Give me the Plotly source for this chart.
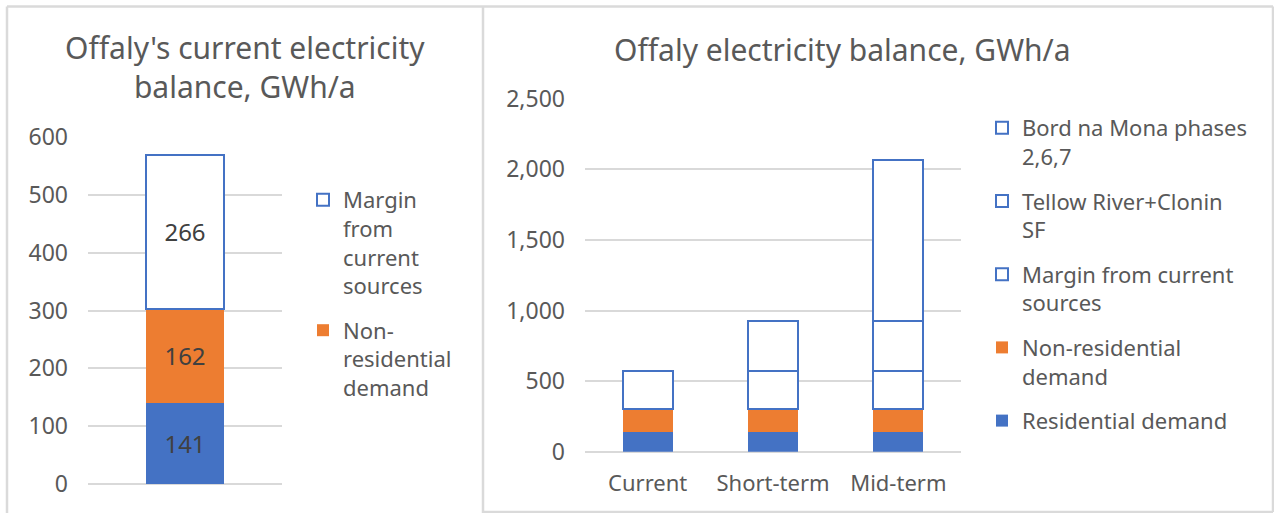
import plotly.graph_objects as go

# ── Data (GWh/a) ───────────────────────────────────────────────────────────────
CATEGORIES      = ["Current", "Short-term", "Mid-term"]
RESIDENTIAL     = [141, 141, 141]
NON_RESIDENTIAL = [162, 162, 162]
MARGIN          = [266, 266, 266]
TELLOW_CLONIN   = [None, 355, 355]
BORD_NA_MONA    = [None, None, 1140]

# ── Palette ────────────────────────────────────────────────────────────────────
BLUE   = "#4472C4"
ORANGE = "#ED7D31"
TEXT   = "#595959"
LABEL  = "#404040"
GRID   = "#D9D9D9"
BORDER = "#DADADA"
FONT   = "Noto Sans"

W, H = 1274, 513


def px_x(x):
    return x / W


def px_y(y):
    return 1 - y / H


fig = go.Figure()

# ── Left: current balance ─────────────────────────────────────────────────────
left_cat = [CATEGORIES[0]]
fig.add_trace(go.Bar(
    x=left_cat, y=[RESIDENTIAL[0]], name="Residential demand",
    marker=dict(color=BLUE, line=dict(width=0)),
    text=[RESIDENTIAL[0]], showlegend=False,
    xaxis="x", yaxis="y", legend="legend",
))
fig.add_trace(go.Bar(
    x=left_cat, y=[NON_RESIDENTIAL[0]], name="Non-<br>residential<br>demand",
    marker=dict(color=ORANGE, line=dict(width=0)),
    text=[NON_RESIDENTIAL[0]], legendgroup="l_non", legendrank=2,
    xaxis="x", yaxis="y", legend="legend",
))
fig.add_trace(go.Bar(
    x=left_cat, y=[MARGIN[0]], name="Margin<br>from<br>current<br>sources",
    marker=dict(color="white", line=dict(color=BLUE, width=2)),
    text=[MARGIN[0]], legendgroup="l_margin", legendrank=1,
    xaxis="x", yaxis="y", legend="legend",
))
fig.update_traces(
    selector=dict(xaxis="x"),
    textposition="inside", insidetextanchor="middle", textangle=0,
    constraintext="none",
    textfont=dict(size=24, color=LABEL, family=FONT),
    hoverinfo="skip",
)

# ── Right: balance by horizon ─────────────────────────────────────────────────
right_series = [
    ("Residential demand", RESIDENTIAL, dict(color=BLUE, line=dict(width=0))),
    ("Non-residential<br>demand", NON_RESIDENTIAL, dict(color=ORANGE, line=dict(width=0))),
    ("Margin from current<br>sources", MARGIN, dict(color="white", line=dict(color=BLUE, width=2))),
    ("Tellow River+Clonin<br>SF", TELLOW_CLONIN, dict(color="white", line=dict(color=BLUE, width=2))),
    ("Bord na Mona phases<br>2,6,7", BORD_NA_MONA, dict(color="white", line=dict(color=BLUE, width=2))),
]
n = len(right_series)
for i, (name, vals, marker) in enumerate(right_series):
    fig.add_trace(go.Bar(
        x=CATEGORIES, y=vals, name=name, marker=marker,
        legendgroup=f"r{i}", legendrank=n - i,
        xaxis="x2", yaxis="y2", legend="legend2",
        hoverinfo="skip",
    ))

# ── Layout ─────────────────────────────────────────────────────────────────────
tick_font = dict(size=23, color=TEXT, family=FONT)
legend_font = dict(size=22, color=TEXT, family=FONT)
fig.update_layout(
    width=W, height=H,
    margin=dict(l=0, r=0, t=0, b=0, autoexpand=False),
    paper_bgcolor="white", plot_bgcolor="white",
    font=dict(family=FONT, color=TEXT),
    barmode="stack", bargap=0.6,
    xaxis=dict(domain=[px_x(88), px_x(282)], anchor="y", showticklabels=False,
               showgrid=False, showline=False, automargin=False),
    yaxis=dict(domain=[px_y(484.3), px_y(136.7)], anchor="x", range=[0, 600], dtick=100,
               gridcolor=GRID, gridwidth=1.5, zerolinecolor=GRID, zerolinewidth=1.5,
               tickfont=tick_font, ticklabelstandoff=19, showline=False,
               automargin=False),
    xaxis2=dict(domain=[px_x(585), px_x(961)], anchor="y2", showgrid=False,
                showline=False, tickfont=dict(size=22, color=TEXT, family=FONT),
                ticklabelstandoff=16, automargin=False),
    yaxis2=dict(domain=[px_y(451.7), px_y(98.7)], anchor="x2", range=[0, 2500], dtick=500,
                tickformat=",d",
                gridcolor=GRID, gridwidth=1.5, zerolinecolor=GRID, zerolinewidth=1.5,
                tickfont=tick_font, ticklabelstandoff=19, showline=False,
                automargin=False),
    legend=dict(x=px_x(303), y=px_y(179), xanchor="left", yanchor="top",
                traceorder="grouped", tracegroupgap=13, valign="top",
                font=legend_font, bgcolor="rgba(0,0,0,0)"),
    legend2=dict(x=px_x(982), y=px_y(107), xanchor="left", yanchor="top",
                 traceorder="grouped", tracegroupgap=13, valign="top",
                 font=legend_font, bgcolor="rgba(0,0,0,0)"),
)

# ── Titles ─────────────────────────────────────────────────────────────────────
title_font = dict(size=30, color=TEXT, family=FONT)
fig.add_annotation(text="Offaly's current electricity<br>balance, GWh/a",
                   x=px_x(245), y=px_y(67), xref="paper", yref="paper",
                   xanchor="center", yanchor="middle",
                   showarrow=False, font=title_font, align="center")
fig.add_annotation(text="Offaly electricity balance, GWh/a",
                   x=px_x(843), y=px_y(49), xref="paper", yref="paper",
                   xanchor="center", yanchor="middle",
                   showarrow=False, font=title_font)

# ── Panel borders ──────────────────────────────────────────────────────────────
border = dict(color=BORDER, width=2.5)
for x0, y0, x1, y1 in [
    (7, 6.5, 1273, 6.5),      # top edge
    (7, 6.5, 7, 513),         # left edge
    (483, 6.5, 483, 513),     # divider
    (1273, 6.5, 1273, 512),   # right edge
    (483, 512, 1273, 512),    # right panel bottom
]:
    fig.add_shape(type="line", xref="paper", yref="paper",
                  x0=px_x(x0), y0=px_y(y0), x1=px_x(x1), y1=px_y(y1),
                  line=border)

fig.write_html(
    "out.html",
    config={"responsive": False, "displayModeBar": False},
    post_script="document.documentElement.style.overflow='hidden';"
                "document.body.style.margin='0';document.body.style.overflow='hidden';",
)
